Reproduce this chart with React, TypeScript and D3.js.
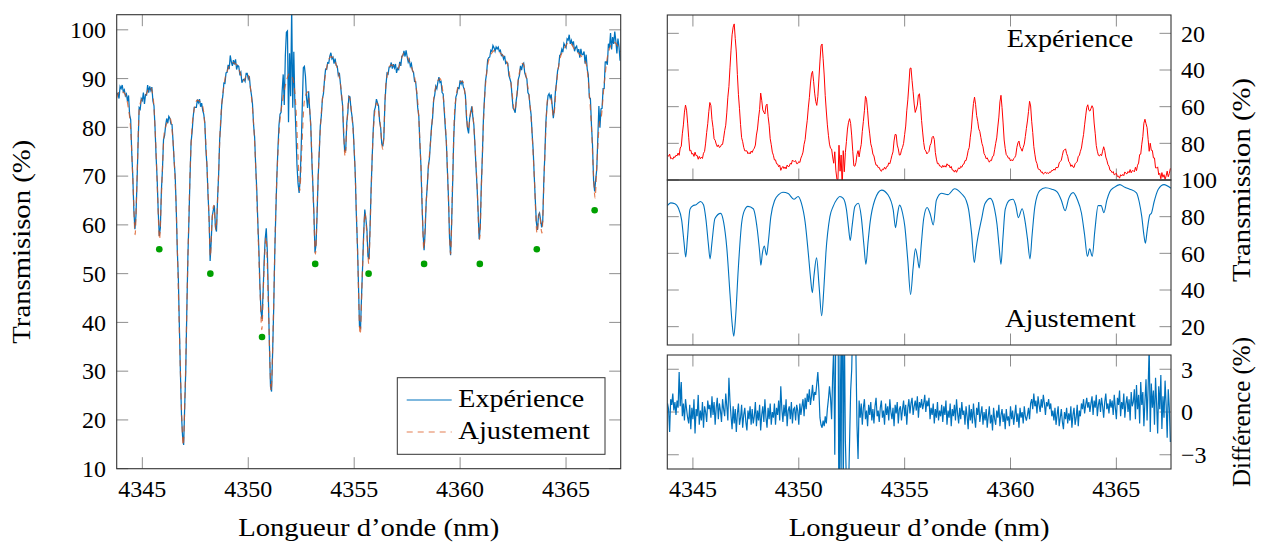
import React from "react";
import * as d3 from "d3";

// ---------- data ----------
const xTicks = [4345, 4350, 4355, 4360, 4365];
const leftYTicks = [10, 20, 30, 40, 50, 60, 70, 80, 90, 100];
const transTicks = [20, 40, 60, 80, 100];
const diffTicks = [-3, 0, 3];

// fitted transmission (Ajustement)
const fitWavelength = [
  4343.79, 4343.95, 4344.15, 4344.3, 4344.47, 4344.58, 4344.66, 4344.74, 4344.86, 4345.0,
  4345.15, 4345.36, 4345.5, 4345.62, 4345.73, 4345.81, 4345.9, 4346.04, 4346.31, 4346.45,
  4346.6, 4346.75, 4346.85, 4346.93, 4347.02, 4347.14, 4347.3, 4347.42, 4347.6, 4347.85,
  4348.04, 4348.15, 4348.21, 4348.28, 4348.37, 4348.48, 4348.56, 4348.68, 4348.87, 4349.05,
  4349.25, 4349.5, 4349.77, 4349.97, 4350.12, 4350.3, 4350.45, 4350.56, 4350.64, 4350.72,
  4350.84, 4350.96, 4351.08, 4351.18, 4351.28, 4351.47, 4351.62, 4351.8, 4351.94, 4352.1,
  4352.25, 4352.35, 4352.43, 4352.52, 4352.65, 4352.81, 4352.95, 4353.08, 4353.17, 4353.27,
  4353.37, 4353.59, 4353.91, 4354.22, 4354.46, 4354.57, 4354.66, 4354.76, 4354.9, 4355.01,
  4355.15, 4355.28, 4355.4, 4355.51, 4355.6, 4355.69, 4355.78, 4355.9, 4356.06, 4356.22,
  4356.35, 4356.5, 4356.74, 4357.05, 4357.35, 4357.69, 4357.9, 4358.02, 4358.16, 4358.29,
  4358.38, 4358.47, 4358.63, 4358.79, 4359.05, 4359.25, 4359.36, 4359.46, 4359.55, 4359.64,
  4359.75, 4359.97, 4360.12, 4360.25, 4360.37, 4360.55, 4360.68, 4360.8, 4360.92, 4361.02,
  4361.15, 4361.38, 4361.65, 4361.95, 4362.2, 4362.4, 4362.58, 4362.75, 4362.96, 4363.15,
  4363.35, 4363.5, 4363.63, 4363.74, 4363.86, 4363.98, 4364.14, 4364.28, 4364.41, 4364.55,
  4364.69, 4364.9, 4365.16, 4365.4, 4365.63, 4365.95, 4366.08, 4366.2, 4366.3, 4366.37,
  4366.45, 4366.58, 4366.66, 4366.78, 4366.98, 4367.25, 4367.58,
];
const fitTransmission = [
  86.0, 87.5, 87.0, 85.0, 78.0, 66, 58.0, 68, 84.0, 86.0,
  86.5, 88.3, 86.5, 78.0, 65, 57.0, 66, 79.0, 81.8, 77,
  63, 38, 22, 14.8, 26, 51, 76.4, 83, 85.6, 84.3,
  73, 61, 53.5, 60, 64, 59, 66, 80, 89.1, 92.0,
  93.3, 92.6, 89.5, 91.0, 87.5, 77, 60, 46, 38.5, 48,
  57.5, 42, 26.0, 40, 60, 80, 85.5, 89.5, 91, 90,
  84, 74, 67, 75, 85.5, 87.3, 80, 64, 54, 66,
  77, 89.1, 94.5, 91.8, 83.7, 74, 81, 86.3, 82, 74.6,
  56, 37.5, 52, 62.5, 58, 52, 64, 79, 85, 81,
  75.5, 89, 92.8, 92, 95.2, 92.5, 89, 84, 71, 55,
  63, 69.5, 78.5, 87, 90, 84, 76, 64, 54, 68,
  84, 89.1, 89.5, 86, 79.5, 84.3, 78, 68, 57, 70,
  85.5, 94.2, 95.8, 95.0, 93.5, 89, 83.3, 90, 93.1, 89.5,
  82, 70, 58.3, 62.5, 58.3, 72, 86, 86, 82.2, 89,
  93.6, 96, 97.5, 96, 95, 93, 88, 80, 70, 65.5,
  72, 81, 82, 88, 95, 97.5, 95.5,
];

// difference (experiment - fit), one value every 0.05 nm from 4343.80 nm
const residualStart = 4343.8;
const residualStep = 0.05;
const residual = [
  0.6, 0.2, -1.4, 0.9, 0.5, 1.3, 0.1, 0.7, -0.2, 0.8, 0.3, 2.8, 0.4, 2.1, -0.3, 0.6, -0.6, 0.9, 0.2, -0.4,
  -0.8, 0.5, -1.2, 0.3, -0.5, 0.9, -1.5, 0.2, -0.3, 1.2, -0.9, 0.1, -0.6, 0.7, -1.1, 0.4, 0.0, -0.7, 0.8, 0.2,
  0.5, -0.4, 1.1, -0.2, 0.7, -0.9, 0.3, 1.0, -0.5, 0.6, 0.1, -0.7, 0.9, 0.2, -0.3, 1.3, 0.4, -0.6, 2.4, 0.8,
  -0.3, -1.2, 0.4, -0.8, 0.2, -1.4, -0.1, 0.6, -0.9, -0.4, 0.5, -1.1, -0.2, 0.3, -0.7, -1.3, 0.1, -0.5, 0.4, -0.9,
  0.2, -0.8, -0.3, 0.7, -1.0, 0.1, -0.6, 0.5, -1.3, -0.2, 0.4, -0.7, 0.9, -0.4, -1.1, 0.3, -0.5, 0.6, -0.9, 0.0,
  -0.4, 0.6, -0.9, 0.3, -0.2, 0.8, -0.6, 1.8, 0.2, -0.7, 0.5, -0.3, 0.9, -1.0, 0.1, 0.4, -0.5, 0.7, -0.8, 0.2,
  0.3, -0.6, 0.5, 0.1, -0.9, 0.6, -0.2, 0.4, 0.9, -0.3, 1.0, 0.2, 1.3, 0.7, 1.6, 0.5, 1.1, 1.9, 0.8, 1.4,
  1.2, 2.0, 2.8, 1.5, -0.4, -0.9, -1.1, -0.6, -1.0, -0.3, -0.8, 0.2, 0.9, 1.8, 1.0, -0.5, 2.5, 4.5, -3.0, 6.0,
  10.0, 9.5, -9.8, 4.2, -4.5, 14.0, -6.0, 6.5, -2.0, -5.0, -7.0, -5.5, -2.0, 1.5, 3.0, 6.5, 9.6, 7.0, 4.0, -1.0,
  -3.3, 0.8, -0.4, 0.6, -0.9, 0.3, 0.9, -0.5, 0.1, -1.0, 0.5, -0.2, 0.7, -0.6, 0.2, -0.8, 0.4, 1.0, -0.3, 0.1,
  -0.7, 0.3, 0.8, -0.4, 0.1, -0.9, 0.6, -0.2, 0.4, -0.6, 0.9, 0.0, -0.5, 0.3, -1.0, 0.5, -0.1, 0.7, -0.8, 0.2,
  0.4, -0.6, 0.2, 0.8, -0.3, 0.5, -0.9, 0.3, 0.9, -0.1, 0.6, 1.0, -0.2, 0.4, 0.8, 0.1, 1.1, -0.4, 0.7, 0.3,
  0.9, 0.2, 0.6, 1.2, 0.0, 0.8, 0.4, 1.0, -0.5, 0.3, -0.2, 0.6, -0.8, 0.2, -0.4, 0.7, -0.6, 0.1, -0.3, 0.5,
  -0.7, 0.4, -0.2, 0.8, -0.9, 0.1, -0.4, 0.6, -1.0, 0.2, -0.3, 0.5, -0.6, 0.9, -0.1, -0.8, 0.3, -0.5, 0.7, -0.2,
  0.1, -0.9, 0.4, -0.3, -1.2, 0.5, -0.6, 0.2, -0.8, 0.6, -0.4, -1.1, 0.3, -0.2, 0.7, -0.7, -0.1, 0.4, -0.9, 0.0,
  -0.6, 0.2, -1.1, -0.3, 0.4, -0.8, -0.2, -1.3, 0.3, -0.5, -0.9, 0.1, -0.4, 0.5, -1.0, -0.2, 0.2, -0.7, -0.1, -1.2,
  0.2, -0.6, -0.3, -1.0, 0.4, -0.5, 0.1, -0.9, -0.2, 0.5, -0.7, -0.1, -1.1, 0.3, -0.4, 0.0, -0.8, 0.4, -0.3, -0.6,
  -0.2, 0.3, -0.5, 0.6, 0.9, 0.2, 1.3, 0.4, 0.8, -0.1, 1.1, 0.5, 0.0, 0.9, 0.3, 1.2, 0.6, -0.2, 0.7, 0.4,
  0.9, 0.2, 0.6, -0.3, 0.1, -0.6, 0.3, -0.9, -0.2, 0.4, -1.0, -0.4, 0.2, -0.7, -1.2, 0.0, -0.5, 0.3, -0.8, -0.1,
  -0.6, 0.4, -1.1, -0.2, 0.3, -0.9, -0.4, 0.5, -1.0, 0.1, -0.3, 0.6, 0.2, 0.9, -0.1, 0.5, 1.0, 0.3, 0.7, 0.0,
  0.6, 1.1, -0.2, 0.8, 0.3, 1.2, -0.3, 0.5, 0.9, 0.0, 1.0, 0.4, -0.4, 0.7, 1.3, 0.2, 0.6, -0.1, 0.9, 0.3,
  0.8, -0.2, 1.2, 0.3, -0.5, 1.0, 0.5, 1.5, -0.3, 0.7, 0.2, 1.3, -0.4, 0.6, 1.1, 0.0, 0.9, -0.6, 1.4, 0.4,
  0.7, 1.6, -0.5, 1.9, 0.2, 1.2, -0.8, 2.1, 0.5, 1.4, -1.0, 0.8, 2.3, -0.6, 1.7, 4.6, -1.4, 2.0, 0.3, 1.5,
  -0.9, 2.4, 0.6, -1.5, 1.8, 0.2, 2.6, -1.2, 1.1, -0.4, 2.2, 0.5, -1.8, 1.6, 0.3, -2.1,
];

// marked line positions (green dots)
const dotWavelength = [4345.8, 4348.21, 4350.65, 4353.16, 4355.68, 4358.3, 4360.93, 4363.62, 4366.35];
const dotTransmission = [55, 50, 37, 52, 50, 52, 52, 55, 63];

// ---------- helpers ----------
const FONT = "'Liberation Serif', 'DejaVu Serif', serif";
const TICK = "#8e8e8e";
const FRAME = "#333333";
const BLUE = "#0072BD";
const ORANGE = "#D95319";

// monotone (Steffen) evaluation, same scheme as d3.curveMonotoneX
function makeMonotone(xs: number[], ys: number[]) {
  const n = xs.length;
  const sgn = (v: number) => (v < 0 ? -1 : 1);
  const m = new Array(n).fill(0);
  for (let i = 1; i < n - 1; i++) {
    const h0 = xs[i] - xs[i - 1];
    const h1 = xs[i + 1] - xs[i];
    const s0 = (ys[i] - ys[i - 1]) / h0;
    const s1 = (ys[i + 1] - ys[i]) / h1;
    const p = (s0 * h1 + s1 * h0) / (h0 + h1);
    m[i] = (sgn(s0) + sgn(s1)) * Math.min(Math.abs(s0), Math.abs(s1), 0.5 * Math.abs(p)) || 0;
  }
  const hs = xs[1] - xs[0];
  m[0] = (3 * (ys[1] - ys[0]) / hs - m[1]) / 2;
  const he = xs[n - 1] - xs[n - 2];
  m[n - 1] = (3 * (ys[n - 1] - ys[n - 2]) / he - m[n - 2]) / 2;
  return (x: number) => {
    let i = d3.bisectRight(xs, x) - 1;
    i = Math.max(0, Math.min(n - 2, i));
    const h = xs[i + 1] - xs[i];
    const t = (x - xs[i]) / h;
    const t2 = t * t, t3 = t2 * t;
    return (2 * t3 - 3 * t2 + 1) * ys[i] + (t3 - 2 * t2 + t) * h * m[i] +
      (-2 * t3 + 3 * t2) * ys[i + 1] + (t3 - t2) * h * m[i + 1];
  };
}

const TL = 11.5; // tick length

export default function App() {
  const xDomain: [number, number] = [4343.79, 4367.58];
  const xL = d3.scaleLinear().domain(xDomain).range([116.7, 620.7]);
  const yL = d3.scaleLinear().domain([10, 103.1]).range([468.7, 14.7]);
  const xR = d3.scaleLinear().domain(xDomain).range([667.3, 1171]);
  const yRed = d3.scaleLinear().domain([100, 10]).range([180, 15]);
  const yBlue = d3.scaleLinear().domain([100, 10]).range([180, 345]);
  const yDiff = d3.scaleLinear().domain([-4, 4]).range([469, 355]);

  const fitAt = makeMonotone(fitWavelength, fitTransmission);
  const fitPts = fitWavelength.map((w, i) => [w, fitTransmission[i]] as [number, number]);
  const resPts = residual.map((r, k) => [residualStart + k * residualStep, r] as [number, number]);
  const expPts = resPts.map(([w, r]) => [w, fitAt(w) + r] as [number, number]);

  const lineExpL = d3.line<[number, number]>().x((d) => xL(d[0])).y((d) => yL(d[1]));
  const lineFitL = d3.line<[number, number]>().x((d) => xL(d[0])).y((d) => yL(d[1])).curve(d3.curveMonotoneX);
  const lineRed = d3.line<[number, number]>().x((d) => xR(d[0])).y((d) => yRed(d[1]));
  const lineBlue = d3.line<[number, number]>().x((d) => xR(d[0])).y((d) => yBlue(d[1])).curve(d3.curveMonotoneX);
  const lineDiff = d3.line<[number, number]>().x((d) => xR(d[0])).y((d) => yDiff(d[1]));

  const L = { x0: 116.7, x1: 620.7, y0: 14.7, y1: 468.7 };
  const R = { x0: 667.3, x1: 1171 };

  const tickStyle = { stroke: TICK, strokeWidth: 1 };
  const txt: React.CSSProperties = { fontFamily: FONT };

  return (
    <svg width={1263} height={543} style={{ position: "absolute", left: 0, top: 0, background: "#fff", fontFamily: FONT }}>
      <defs>
        <clipPath id="clipL"><rect x={L.x0} y={L.y0} width={L.x1 - L.x0} height={L.y1 - L.y0} /></clipPath>
        <clipPath id="clipRed"><rect x={R.x0} y={15} width={R.x1 - R.x0} height={165} /></clipPath>
        <clipPath id="clipBlue"><rect x={R.x0} y={180} width={R.x1 - R.x0} height={165} /></clipPath>
        <clipPath id="clipDiff"><rect x={R.x0} y={355} width={R.x1 - R.x0} height={114} /></clipPath>
      </defs>
      <rect x={0} y={0} width={1263} height={543} fill="#fff" />

      {/* ===== left panel ===== */}
      <g>
        {xTicks.map((t) => (
          <g key={"lx" + t}>
            <line x1={xL(t)} x2={xL(t)} y1={L.y0} y2={L.y0 + TL} {...tickStyle} />
            <line x1={xL(t)} x2={xL(t)} y1={L.y1} y2={L.y1 - TL} {...tickStyle} />
            <text style={txt} x={xL(t)} y={496.5} textAnchor="middle" fontSize={24}>{t}</text>
          </g>
        ))}
        {leftYTicks.map((t) => (
          <g key={"ly" + t}>
            <line x1={L.x0} x2={L.x0 + TL} y1={yL(t)} y2={yL(t)} {...tickStyle} />
            <line x1={L.x1} x2={L.x1 - TL} y1={yL(t)} y2={yL(t)} {...tickStyle} />
            <text style={txt} x={106} y={yL(t) + 8.3} textAnchor="end" fontSize={24}>{t}</text>
          </g>
        ))}
        <g clipPath="url(#clipL)">
          <path d={lineExpL(expPts) || ""} fill="none" stroke={BLUE} strokeWidth={1.25} />
          <path d={lineFitL(fitPts) || ""} fill="none" stroke={ORANGE} strokeOpacity={0.75}
            strokeWidth={1.2} strokeDasharray="6 5" />
        </g>
        {dotWavelength.map((w, i) => (
          <circle key={"dot" + i} cx={xL(w)} cy={yL(dotTransmission[i])} r={3.3} fill="#00A000" />
        ))}
        <rect x={L.x0} y={L.y0} width={L.x1 - L.x0} height={L.y1 - L.y0} fill="none" stroke={FRAME} strokeWidth={1.1} />

        {/* legend */}
        <rect x={397.3} y={377.7} width={207.7} height={76.6} fill="#fff" stroke={FRAME} strokeWidth={1} />
        <line x1={406.7} x2={451.7} y1={400} y2={400} stroke={BLUE} strokeWidth={1.1} />
        <line x1={406.7} x2={451.7} y1={432} y2={432} stroke={ORANGE} strokeOpacity={0.75}
          strokeWidth={1.2} strokeDasharray="6 5" />
        <text style={txt} x={458.3} y={406.7} fontSize={24.5} textLength={126} lengthAdjust="spacingAndGlyphs">Expérience</text>
        <text style={txt} x={458.3} y={439.3} fontSize={24.5} textLength={131.7} lengthAdjust="spacingAndGlyphs">Ajustement</text>

        <text style={txt} x={(L.x0 + L.x1) / 2} y={536} textAnchor="middle" fontSize={24.5}
          textLength={261} lengthAdjust="spacingAndGlyphs">Longueur d’onde (nm)</text>
        <text style={txt} transform={`translate(30, ${(L.y0 + L.y1) / 2}) rotate(-90)`} textAnchor="middle" fontSize={24.5}
          textLength={204} lengthAdjust="spacingAndGlyphs">Transmisison (%)</text>
      </g>

      {/* ===== right panels ===== */}
      <g>
        {xTicks.map((t) => (
          <g key={"rx" + t}>
            <line x1={xR(t)} x2={xR(t)} y1={15} y2={15 + TL} {...tickStyle} />
            <line x1={xR(t)} x2={xR(t)} y1={180} y2={180 - TL} {...tickStyle} />
            <line x1={xR(t)} x2={xR(t)} y1={345} y2={345 - TL} {...tickStyle} />
            <line x1={xR(t)} x2={xR(t)} y1={355} y2={355 + TL} {...tickStyle} />
            <line x1={xR(t)} x2={xR(t)} y1={469} y2={469 - TL} {...tickStyle} />
            <text style={txt} x={xR(t)} y={496.5} textAnchor="middle" fontSize={24}>{t}</text>
          </g>
        ))}
        {transTicks.map((t) => (
          <g key={"ry" + t}>
            <line x1={R.x0} x2={R.x0 + TL} y1={yRed(t)} y2={yRed(t)} {...tickStyle} />
            <line x1={R.x1} x2={R.x1 - TL} y1={yRed(t)} y2={yRed(t)} {...tickStyle} />
            <text style={txt} x={1181} y={yRed(t) + 8.3} fontSize={24}>{t}</text>
          </g>
        ))}
        {transTicks.filter((t) => t < 100).map((t) => (
          <g key={"rb" + t}>
            <line x1={R.x0} x2={R.x0 + TL} y1={yBlue(t)} y2={yBlue(t)} {...tickStyle} />
            <line x1={R.x1} x2={R.x1 - TL} y1={yBlue(t)} y2={yBlue(t)} {...tickStyle} />
            <text style={txt} x={1181} y={yBlue(t) + 8.3} fontSize={24}>{t}</text>
          </g>
        ))}
        {diffTicks.map((t) => (
          <g key={"rd" + t}>
            <line x1={R.x0} x2={R.x0 + TL} y1={yDiff(t)} y2={yDiff(t)} {...tickStyle} />
            <line x1={R.x1} x2={R.x1 - TL} y1={yDiff(t)} y2={yDiff(t)} {...tickStyle} />
            <text style={txt} x={1181} y={yDiff(t) + 8.3} fontSize={24}>{t < 0 ? "−" + Math.abs(t) : String(t)}</text>
          </g>
        ))}

        <g clipPath="url(#clipRed)">
          <path d={lineRed(expPts) || ""} fill="none" stroke="#FF0000" strokeWidth={1} />
        </g>
        <g clipPath="url(#clipBlue)">
          <path d={lineBlue(fitPts) || ""} fill="none" stroke={BLUE} strokeWidth={1.1} />
        </g>
        <g clipPath="url(#clipDiff)">
          <path d={lineDiff(resPts) || ""} fill="none" stroke={BLUE} strokeWidth={1.2} />
        </g>

        <rect x={R.x0} y={15} width={R.x1 - R.x0} height={165} fill="none" stroke={FRAME} strokeWidth={1.1} />
        <rect x={R.x0} y={180} width={R.x1 - R.x0} height={165} fill="none" stroke={FRAME} strokeWidth={1.1} />
        <rect x={R.x0} y={355} width={R.x1 - R.x0} height={114} fill="none" stroke={FRAME} strokeWidth={1.1} />

        <text style={txt} x={1006.7} y={46.7} fontSize={24.5} textLength={126.6} lengthAdjust="spacingAndGlyphs">Expérience</text>
        <text style={txt} x={1005} y={326.7} fontSize={24.5} textLength={131} lengthAdjust="spacingAndGlyphs">Ajustement</text>

        <text style={txt} x={(R.x0 + R.x1) / 2} y={536} textAnchor="middle" fontSize={24.5}
          textLength={261} lengthAdjust="spacingAndGlyphs">Longueur d’onde (nm)</text>
        <text style={txt} transform="translate(1250, 180) rotate(-90)" textAnchor="middle" fontSize={24.5}
          textLength={204} lengthAdjust="spacingAndGlyphs">Transmission (%)</text>
        <text style={txt} transform="translate(1250, 412) rotate(-90)" textAnchor="middle" fontSize={24.5}
          textLength={150} lengthAdjust="spacingAndGlyphs">Différence (%)</text>
      </g>
    </svg>
  );
}
